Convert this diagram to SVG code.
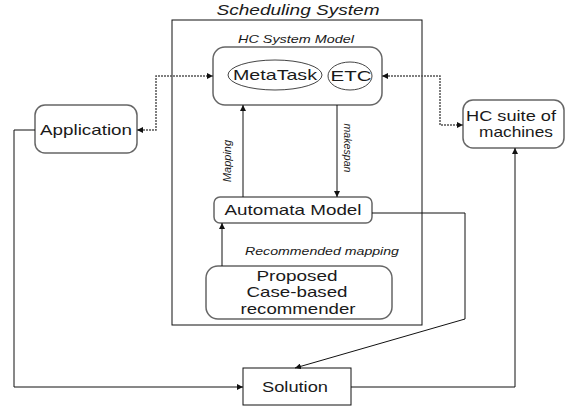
<svg xmlns="http://www.w3.org/2000/svg" width="567" height="406" viewBox="0 0 567 406">
<style>
text{font-family:"Liberation Sans",Arial,sans-serif;fill:#1a1a1a}
.lbl{font-size:15px}
.it{font-style:italic;font-size:11px}
.rbox{fill:#fff;stroke:#666;stroke-width:1.5}
.line{fill:none;stroke:#111;stroke-width:1}
.dot{fill:none;stroke:#555;stroke-width:1.5;stroke-dasharray:2 1}
</style>
<defs>
<marker id="ah" viewBox="0 0 10 10" refX="10" refY="5" markerWidth="6" markerHeight="6" markerUnits="userSpaceOnUse" orient="auto-start-reverse">
<path d="M0,0 L10,5 L0,10 z" fill="#111"/>
</marker>
</defs>
<rect width="567" height="406" fill="#fff"/>
<g id="scheduling-system">
<rect x="172" y="20" width="250" height="305" fill="none" stroke="#111" stroke-width="1"/>
<text x="298" y="15" text-anchor="middle" font-size="14" font-style="italic" textLength="163" lengthAdjust="spacingAndGlyphs">Scheduling System</text>
</g>
<g id="hc-system-model">
<text class="it" x="296" y="43" text-anchor="middle" textLength="116" lengthAdjust="spacingAndGlyphs">HC System Model</text>
<rect class="rbox" x="213" y="47" width="169" height="58" rx="12"/>
</g>
<g id="metatask">
<ellipse cx="275" cy="75" rx="47" ry="15" fill="#fff" stroke="#444" stroke-width="1"/>
<text class="lbl" x="275" y="80" text-anchor="middle" textLength="84" lengthAdjust="spacingAndGlyphs">MetaTask</text>
</g>
<g id="etc">
<ellipse cx="350" cy="76" rx="22" ry="14" fill="#fff" stroke="#444" stroke-width="1"/>
<text class="lbl" x="351" y="81" text-anchor="middle" textLength="41" lengthAdjust="spacingAndGlyphs">ETC</text>
</g>
<g id="application">
<rect class="rbox" x="35" y="105" width="102" height="48" rx="10"/>
<text class="lbl" x="86" y="135" text-anchor="middle" textLength="92" lengthAdjust="spacingAndGlyphs">Application</text>
</g>
<g id="hc-suite">
<rect class="rbox" x="463" y="100" width="101" height="48" rx="10"/>
<text class="lbl" x="511" y="121" text-anchor="middle" textLength="90" lengthAdjust="spacingAndGlyphs">HC suite of</text>
<text class="lbl" x="516" y="137" text-anchor="middle" textLength="74" lengthAdjust="spacingAndGlyphs">machines</text>
</g>
<g id="automata-model">
<rect class="rbox" x="214" y="197" width="158" height="26" rx="6"/>
<text class="lbl" x="293" y="215" text-anchor="middle" textLength="137" lengthAdjust="spacingAndGlyphs">Automata Model</text>
</g>
<g id="recommender">
<rect class="rbox" x="206" y="266" width="186" height="53" rx="12"/>
<text class="lbl" x="297" y="281" text-anchor="middle" textLength="81" lengthAdjust="spacingAndGlyphs">Proposed</text>
<text class="lbl" x="297" y="297" text-anchor="middle" textLength="101" lengthAdjust="spacingAndGlyphs">Case-based</text>
<text class="lbl" x="298" y="314" text-anchor="middle" textLength="115" lengthAdjust="spacingAndGlyphs">recommender</text>
</g>
<g id="solution">
<rect x="243" y="368" width="108" height="37" fill="#fff" stroke="#111" stroke-width="1"/>
<text class="lbl" x="295" y="392" text-anchor="middle" textLength="66" lengthAdjust="spacingAndGlyphs">Solution</text>
</g>
<g id="connectors">
<path class="dot" d="M137,130 H156 V76 H213" marker-start="url(#ah)" marker-end="url(#ah)"/>
<path class="dot" d="M382,76 H440 V125 H463" marker-start="url(#ah)" marker-end="url(#ah)"/>
<path class="line" d="M243,197 V105" marker-end="url(#ah)"/>
<path class="line" d="M337,105 V197" marker-end="url(#ah)"/>
<path class="line" d="M222,266 V223" marker-end="url(#ah)"/>
<path class="line" d="M372,213 H465 V319 L295,368" marker-end="url(#ah)"/>
<path class="line" d="M35,130 H14 V387 H243" marker-end="url(#ah)"/>
<path class="line" d="M351,387 H515 V148" marker-end="url(#ah)"/>
<text class="it" transform="translate(231,161) rotate(-90)" text-anchor="middle" textLength="42" lengthAdjust="spacingAndGlyphs">Mapping</text>
<text class="it" transform="translate(344,148) rotate(90)" text-anchor="middle" textLength="49" lengthAdjust="spacingAndGlyphs">makespan</text>
<text class="it" x="245" y="255" textLength="154" lengthAdjust="spacingAndGlyphs">Recommended mapping</text>
</g>
</svg>
